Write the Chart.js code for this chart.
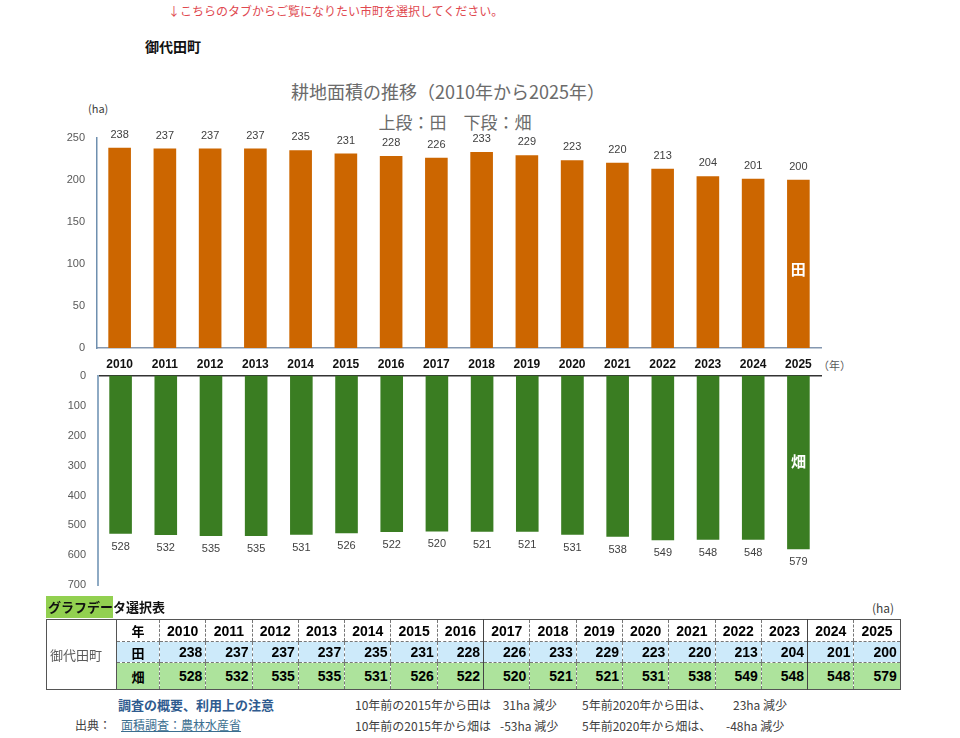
<!DOCTYPE html>
<html lang="ja">
<head>
<meta charset="utf-8">
<script src="https://cdn.jsdelivr.net/npm/chart.js@4.4.1/dist/chart.umd.min.js"></script>
<style>
  body { margin: 0; background: #fff; font-family: "Noto Sans CJK JP", sans-serif; }
  #page { position: relative; width: 960px; height: 738px; overflow: hidden; }
  .abs { position: absolute; white-space: nowrap; }
  #notice { left: 168px; top: 2px; font-size: 12px; color: #e0484f; }
  #town { left: 145px; top: 36px; font-size: 14px; font-weight: bold; color: #111; }
  #title { left: 0; width: 896px; text-align: center; top: 78px; font-size: 18px; color: #6b6b6b; }
  #subtitle { left: 0; width: 910px; text-align: center; top: 109px; font-size: 17px; color: #6b6b6b; }
  #ha1 { left: 88px; top: 100px; font-size: 11px; color: #404040; }
  #nen { left: 818px; top: 357px; font-size: 11px; color: #595959; }
  #topWrap { left: 40px; top: 119px; width: 820px; height: 257px; }
  #botWrap { left: 40px; top: 357px; width: 820px; height: 247px; }
  #tblTitle { left: 46px; top: 597px; font-size: 13px; font-weight: bold; color: #111; }
  #tblTitle span { background: #92d050; padding: 1px 0 2px 2px; }
  #ha2 { left: 872px; top: 599px; font-size: 12px; color: #404040; }
  table { position: absolute; left: 46px; top: 619px; border-collapse: collapse; table-layout: fixed;
          width: 854px; border: 1px solid #555; font-size: 13px; }
  td { padding: 0 3px; white-space: nowrap; overflow: hidden; }
  td.town { width: 64px; color: #595959; font-weight: normal; text-align: left; border-right: 1px solid #555; }
  td.lab { text-align: center; font-weight: bold; }
  td.y { text-align: center; font-weight: bold; border-left: 1px dashed #777; }
  td.v { text-align: right; font-weight: bold; border-left: 1px dashed #777; font-family: "Liberation Sans Narrow", "Liberation Sans", sans-serif; font-size: 14px; }
  td.y { font-family: "Liberation Sans Narrow", "Liberation Sans", sans-serif; font-size: 14px; }
  td.solid { border-left: 1px solid #444; }
  tr.hd td { height: 21px; border-bottom: 1px dashed #777; }
  tr.ta td { height: 20px; background: #cdeafa; border-bottom: 1px dashed #777; }
  tr.ha td { height: 26px; background: #ade39c; }
  tr td.town { background: #fff; border-bottom: none; }
  #note1 { left: 118px; top: 695px; font-size: 13px; font-weight: bold; color: #2f5b8f; }
  #src { left: 75px; top: 716px; font-size: 12px; color: #404040; }
  #src u { color: #3b6e8f; margin-left: 10px; }
  .cmp { font-size: 12px; color: #404040; }
</style>
</head>
<body>
<div id="page">
  <div id="notice" class="abs">↓こちらのタブからご覧になりたい市町を選択してください。</div>
  <div id="town" class="abs">御代田町</div>
  <div id="title" class="abs">耕地面積の推移（2010年から2025年）</div>
  <div id="subtitle" class="abs">上段：田　下段：畑</div>
  <div id="ha1" class="abs">(ha)</div>
  <div id="nen" class="abs">（年）</div>
  <div id="topWrap" class="abs"><canvas id="topChart" width="820" height="257"></canvas></div>
  <div id="botWrap" class="abs"><canvas id="botChart" width="820" height="247"></canvas></div>
  <div id="tblTitle" class="abs"><span>グラフデー</span>タ選択表</div>
  <div id="ha2" class="abs">(ha)</div>
  <table id="tbl"></table>
  <div id="note1" class="abs">調査の概要、利用上の注意</div>
  <div id="src" class="abs">出典：<u>面積調査：農林水産省</u></div>
  <div class="abs cmp" style="left:355px;top:696px">10年前の2015年から田は</div>
  <div class="abs cmp" style="left:500px;top:696px">&nbsp;31ha 減少</div>
  <div class="abs cmp" style="left:582px;top:696px">5年前2020年から田は、</div>
  <div class="abs cmp" style="left:733px;top:696px">23ha 減少</div>
  <div class="abs cmp" style="left:355px;top:717px">10年前の2015年から畑は</div>
  <div class="abs cmp" style="left:500px;top:717px">-53ha 減少</div>
  <div class="abs cmp" style="left:582px;top:717px">5年前2020年から畑は、</div>
  <div class="abs cmp" style="left:726px;top:717px">-48ha 減少</div>
</div>
<script>
const years = ['2010','2011','2012','2013','2014','2015','2016','2017','2018','2019','2020','2021','2022','2023','2024','2025'];
const paddy = [238,237,237,237,235,231,228,226,233,229,223,220,213,204,201,200];
const field = [528,532,535,535,531,526,522,520,521,521,531,538,549,548,548,579];
const paddyTicks = [0, 250, 50];
const fieldTicks = [0, 700, 100];

const orange = '#cc6600';
const green = '#3a7d22';
const numFont = '"Liberation Sans", sans-serif';

// value labels above / below bars, plus series name inside last bar
const valueLabels = {
  id: 'valueLabels',
  afterDatasetsDraw(chart, args, opts) {
    const ctx = chart.ctx;
    const meta = chart.getDatasetMeta(0);
    const vals = chart.data.datasets[0].data;
    ctx.save();
    ctx.textAlign = 'center';
    ctx.textBaseline = 'middle';
    ctx.font = '11px ' + numFont;
    ctx.fillStyle = '#404040';
    meta.data.forEach((bar, i) => {
      ctx.fillText(vals[i], bar.x, bar.y + opts.offset);
    });
    const last = meta.data[meta.data.length - 1];
    ctx.font = 'bold 15px "Noto Sans CJK JP"';
    ctx.fillStyle = '#ffffff';
    ctx.fillText(opts.name, last.x, chart.scales.y.getPixelForValue(opts.nameValue));
    ctx.restore();
  }
};

new Chart(document.getElementById('topChart'), {
  type: 'bar',
  data: {
    labels: years,
    datasets: [{ label: '田', data: paddy, backgroundColor: orange, barPercentage: 0.5, categoryPercentage: 1 }]
  },
  options: {
    responsive: false,
    animation: false,
    layout: { padding: { top: 12, right: 39, left: 0, bottom: 0 } },
    plugins: {
      legend: { display: false },
      tooltip: { enabled: false },
      valueLabels: { offset: -13, name: '田', nameValue: 93 }
    },
    scales: {
      x: {
        grid: { display: false, drawTicks: false },
        border: { display: true, color: '#8497b0', width: 1.5 },
        ticks: { color: '#111', font: { family: numFont, size: 12, weight: 'bold' }, padding: 9, maxRotation: 0 },
        afterFit: s => { s.height = 28; }
      },
      y: {
        min: paddyTicks[0], max: paddyTicks[1],
        grid: { display: false, drawTicks: false },
        border: { display: true, color: '#6f8faf', width: 1.5 },
        ticks: { stepSize: paddyTicks[2], color: '#595959', font: { family: numFont, size: 11 }, padding: 12 },
        afterFit: s => { s.width = 57; }
      }
    }
  },
  plugins: [valueLabels]
});

new Chart(document.getElementById('botChart'), {
  type: 'bar',
  data: {
    labels: years,
    datasets: [{ label: '畑', data: field, backgroundColor: green, barPercentage: 0.5, categoryPercentage: 1 }]
  },
  options: {
    responsive: false,
    animation: false,
    layout: { padding: { top: 10, right: 39, left: 0, bottom: 11 } },
    plugins: {
      legend: { display: false },
      tooltip: { enabled: false },
      valueLabels: { offset: 13, name: '畑', nameValue: 285 }
    },
    scales: {
      x: {
        position: 'top',
        grid: { display: false, drawTicks: false },
        border: { display: true, color: '#333', width: 1.5 },
        ticks: { display: false },
        afterFit: s => { s.height = 0; }
      },
      y: {
        reverse: true,
        min: fieldTicks[0], max: fieldTicks[1],
        grid: { display: false, drawTicks: false },
        border: { display: true, color: '#8eaac4', width: 2 },
        ticks: { stepSize: fieldTicks[2], color: '#595959', font: { family: numFont, size: 11 }, padding: 12 },
        afterFit: s => { s.width = 58; }
      }
    }
  },
  plugins: [valueLabels]
});

// data table below the chart
(function buildTable() {
  const solidAt = ['2017', '2024'];
  const cls = y => 'v' + (solidAt.includes(y) ? ' solid' : '');
  let html = '<colgroup><col style="width:70px"><col style="width:43px">' +
    years.map(() => '<col style="width:46.3px">').join('') + '</colgroup>';
  html += '<tr class="hd"><td class="town" rowspan="3">御代田町</td><td class="lab">年</td>' +
    years.map(y => '<td class="y' + (solidAt.includes(y) ? ' solid' : '') + '">' + y + '</td>').join('') + '</tr>';
  html += '<tr class="ta"><td class="lab">田</td>' +
    paddy.map((v, i) => '<td class="' + cls(years[i]) + '">' + v + '</td>').join('') + '</tr>';
  html += '<tr class="ha"><td class="lab">畑</td>' +
    field.map((v, i) => '<td class="' + cls(years[i]) + '">' + v + '</td>').join('') + '</tr>';
  document.getElementById('tbl').innerHTML = html;
})();
</script>
</body>
</html>
